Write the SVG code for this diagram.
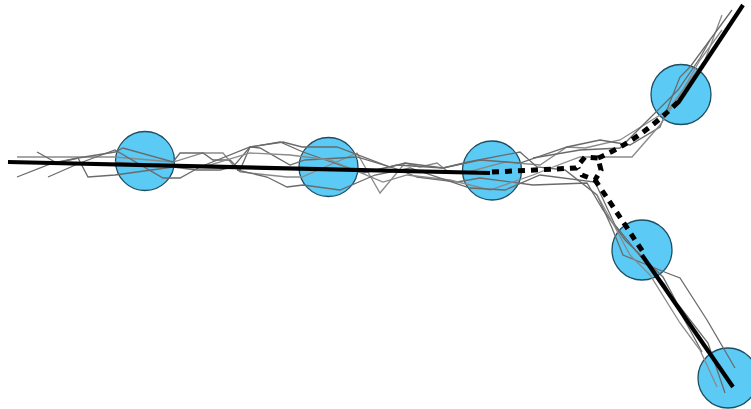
<svg xmlns="http://www.w3.org/2000/svg" width="751" height="409" viewBox="0 0 751 409">
<style>
.g{fill:none;stroke:#6a6a6a;stroke-width:1.3;stroke-linejoin:miter}
.g2{fill:none;stroke:#8a8a8a;stroke-width:1.3}
.node{fill:#5bcbf5;stroke:#1d4e63;stroke-width:1.3}
.thick{fill:none;stroke:#000;stroke-width:4.2;stroke-linecap:butt}
.dash{fill:none;stroke:#000;stroke-width:5;stroke-dasharray:7 6}
</style>
<rect width="751" height="409" fill="#fff"/>
<g id="n1"><circle class="node" cx="145" cy="161" r="29.5"/></g>
<g id="n2"><circle class="node" cx="328.5" cy="167" r="29.5"/></g>
<g id="n3"><circle class="node" cx="492" cy="170.5" r="29.5"/></g>
<g id="n4"><circle class="node" cx="681" cy="94.5" r="30"/></g>
<g id="n5"><circle class="node" cx="642" cy="250" r="30"/></g>
<g id="n6"><circle class="node" cx="728" cy="378" r="30"/></g>
<g id="traces">
<polyline class="g2" points="17,157 115,157 173,162 203,153 223,153 233,165 240,172 287,177 302,177 357,153 380,193 405,163 420,167 437,163 450,173 468,172 505,162 540,165 567,147 585,148 620,140 668,110 705,60 722,15"/>
<polyline class="g" points="37,152 57,163 78,158 88,177 115,175 173,167 197,170 220,170 233,167 250,147 260,148 290,165 305,160 357,157 400,170 417,177 457,182 480,178 533,185 587,183 603,210 625,240 663,277 677,303 708,343 725,393"/>
<polyline class="g" points="17,177 53,163 78,158 115,152 123,148 173,162 180,153 203,153 213,160 230,160 240,170 250,147 283,142 302,147 337,147 390,167 405,163 443,168 468,162 520,152 537,167 565,170 597,195 612,228 623,255 667,273 680,278 707,320 735,368"/>
<polyline class="g" points="48,177 80,163 115,150 163,178 180,178 200,167 250,147 280,142 303,152 363,173 397,165 443,168 480,160 520,163 567,147 600,140 630,145 660,127 680,77 690,67 732,10"/>
<polyline class="g2" points="115,162 173,167 203,167 250,153 290,155 330,160 383,182 407,175 450,180 490,190 533,175 553,167 580,157 632,157 660,125 680,95 700,60 722,30"/>
<polyline class="g" points="237,170 267,177 287,187 303,185 340,190 375,175 410,168 470,188 505,190 540,175 595,182 615,225 645,262 665,285 690,330 702,352"/>
<polyline class="g" points="533,158 580,150 620,148 650,118 678,90 700,58 710,40"/>
<polyline class="g2" points="597,195 610,218 630,255 650,275 680,323 700,350 717,387"/>
</g>
<g id="connectors">
<polyline class="thick" points="8,162 490,173"/>
<polyline class="thick" points="678,103 743,5"/>
<polyline class="thick" points="642,255 733,387"/>
<polyline class="dash" points="492,172 576,168 585,157 598,158 601,170 595,180 582,175 578,168"/>
<path class="dash" d="M598,158 Q640,140 678,102"/>
<path class="dash" d="M595,180 Q612,205 643,252"/>
</g>
</svg>
